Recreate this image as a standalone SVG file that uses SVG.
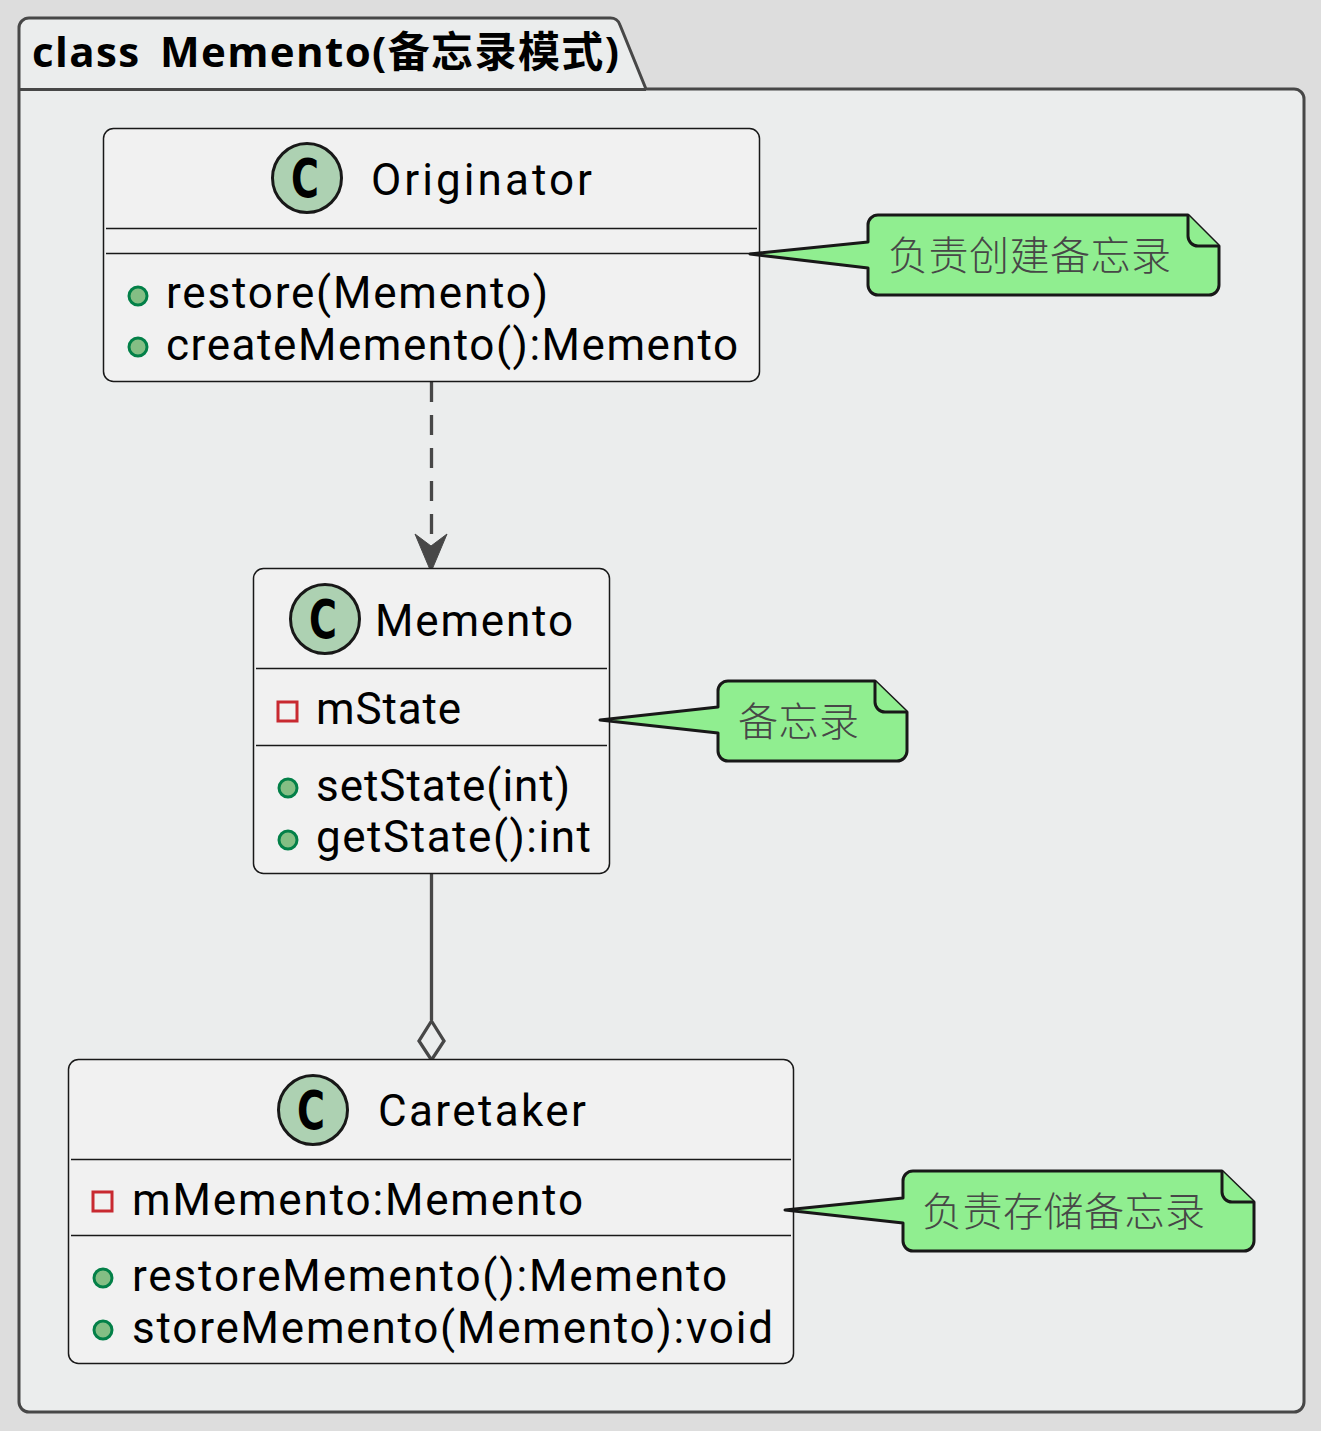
<svg xmlns="http://www.w3.org/2000/svg" width="1321" height="1431" viewBox="0 0 1321 1431">
<style>
.bg{fill:#dddddd}
.pk{fill:#ebeded;stroke:#474747;stroke-width:3}
.box{fill:#f1f1f1;stroke:#181818;stroke-width:1.5}
.sep{stroke:#181818;stroke-width:1.5;fill:none}
.t{font-family:Roboto,"Open Sans","Noto Sans CJK SC",sans-serif;font-size:44px;fill:#000}
.ci{fill:#add1b2;stroke:#181818;stroke-width:3}
.cl{font-family:"DejaVu Sans",sans-serif;font-weight:bold;font-size:53px;fill:#000}
.pub{fill:#84be84;stroke:#038048;stroke-width:3}
.pri{fill:none;stroke:#c82930;stroke-width:3}
.note{fill:#90ee90;stroke:#181818;stroke-width:3;stroke-linejoin:round}
.nt{font-family:"Noto Sans CJK SC",sans-serif;font-size:40px;font-weight:300;fill:#474747}
.ln{stroke:#474747;stroke-width:3.3;fill:none}
.title{font-family:"Open Sans","Noto Sans CJK SC",sans-serif;font-weight:bold;font-size:42px;word-spacing:7px}
</style>
<rect class="bg" width="1321" height="1431"/>
<g id="package">
<path class="pk" d="M19 89V28a10 10 0 0 1 10-10H610a10 10 0 0 1 10 7L646 89H1294a10 10 0 0 1 10 10V1402a10 10 0 0 1-10 10H29a10 10 0 0 1-10-10Z"/>
<path class="pk" d="M19 89.500H646"/>
<text class="title" x="32" y="67" textLength="587">class Memento(备忘录模式)</text>
</g>
<g id="connectors">
<path class="ln" d="M431.500 382V536" stroke-dasharray="20 13"/>
<path d="M431 572L415 534L431 546L447 534Z" fill="#474747" stroke="#474747" stroke-width="1"/>
<path class="ln" d="M431.500 871V1020"/>
<path class="ln" d="M431.500 1021L444 1041L431.500 1060L419 1041Z"/>
</g>
<g id="Originator">
<rect class="box" x="103.500" y="128.500" width="656" height="253" rx="10"/>
<ellipse class="ci" cx="307" cy="178" rx="34.500" ry="34.500"/>
<text class="cl" x="291" y="197" textLength="28" lengthAdjust="spacingAndGlyphs">C</text>
<text class="t" x="371" y="195" textLength="221">Originator</text>
<path class="sep" d="M106 228.500H757M106 253.500H757"/>
<circle class="pub" cx="138" cy="296" r="9"/>
<text class="t" x="166" y="308" textLength="382">restore(Memento)</text>
<circle class="pub" cx="138" cy="347" r="9"/>
<text class="t" x="166" y="360" textLength="572">createMemento():Memento</text>
</g>
<g id="Memento">
<rect class="box" x="253.500" y="568.500" width="356" height="305" rx="10"/>
<ellipse class="ci" cx="325" cy="619" rx="34.500" ry="34.500"/>
<text class="cl" x="309" y="638" textLength="28" lengthAdjust="spacingAndGlyphs">C</text>
<text class="t" x="375" y="636" textLength="198">Memento</text>
<path class="sep" d="M256 668.500H607M256 745.500H607"/>
<rect class="pri" x="278" y="702" width="19" height="19"/>
<text class="t" x="316" y="724" textLength="145">mState</text>
<circle class="pub" cx="288" cy="788" r="9"/>
<text class="t" x="316" y="801" textLength="254">setState(int)</text>
<circle class="pub" cx="288" cy="840" r="9"/>
<text class="t" x="316" y="852" textLength="275">getState():int</text>
</g>
<g id="Caretaker">
<rect class="box" x="68.500" y="1059.500" width="725" height="304" rx="10"/>
<ellipse class="ci" cx="313" cy="1110" rx="34.500" ry="34.500"/>
<text class="cl" x="297" y="1129" textLength="28" lengthAdjust="spacingAndGlyphs">C</text>
<text class="t" x="378" y="1126" textLength="208">Caretaker</text>
<path class="sep" d="M71 1159.500H791M71 1235.500H791"/>
<rect class="pri" x="93" y="1192" width="19" height="19"/>
<text class="t" x="132" y="1215" textLength="451">mMemento:Memento</text>
<circle class="pub" cx="103" cy="1278" r="9"/>
<text class="t" x="132" y="1291" textLength="595">restoreMemento():Memento</text>
<circle class="pub" cx="103" cy="1330" r="9"/>
<text class="t" x="132" y="1343" textLength="641">storeMemento(Memento):void</text>
</g>
<g id="note1">
<path class="note" d="M868 225a10 10 0 0 1 10-10H1188L1219 246V285a10 10 0 0 1-10 10H878a10 10 0 0 1-10-10V268L750 254L868 242Z"/>
<path class="note" d="M1188 215V236a10 10 0 0 0 10 10H1219"/>
<text class="nt" x="888" y="270" textLength="283">负责创建备忘录</text>
</g>
<g id="note2">
<path class="note" d="M718 691a10 10 0 0 1 10-10H875L907 712V751a10 10 0 0 1-10 10H728a10 10 0 0 1-10-10V733L600 720L718 707Z"/>
<path class="note" d="M875 681V702a10 10 0 0 0 10 10H907"/>
<text class="nt" x="738" y="736" textLength="121">备忘录</text>
</g>
<g id="note3">
<path class="note" d="M903 1181a10 10 0 0 1 10-10H1222L1254 1202V1241a10 10 0 0 1-10 10H913a10 10 0 0 1-10-10V1223L785 1210L903 1198Z"/>
<path class="note" d="M1222 1171V1192a10 10 0 0 0 10 10H1254"/>
<text class="nt" x="922" y="1226" textLength="283">负责存储备忘录</text>
</g>
</svg>
